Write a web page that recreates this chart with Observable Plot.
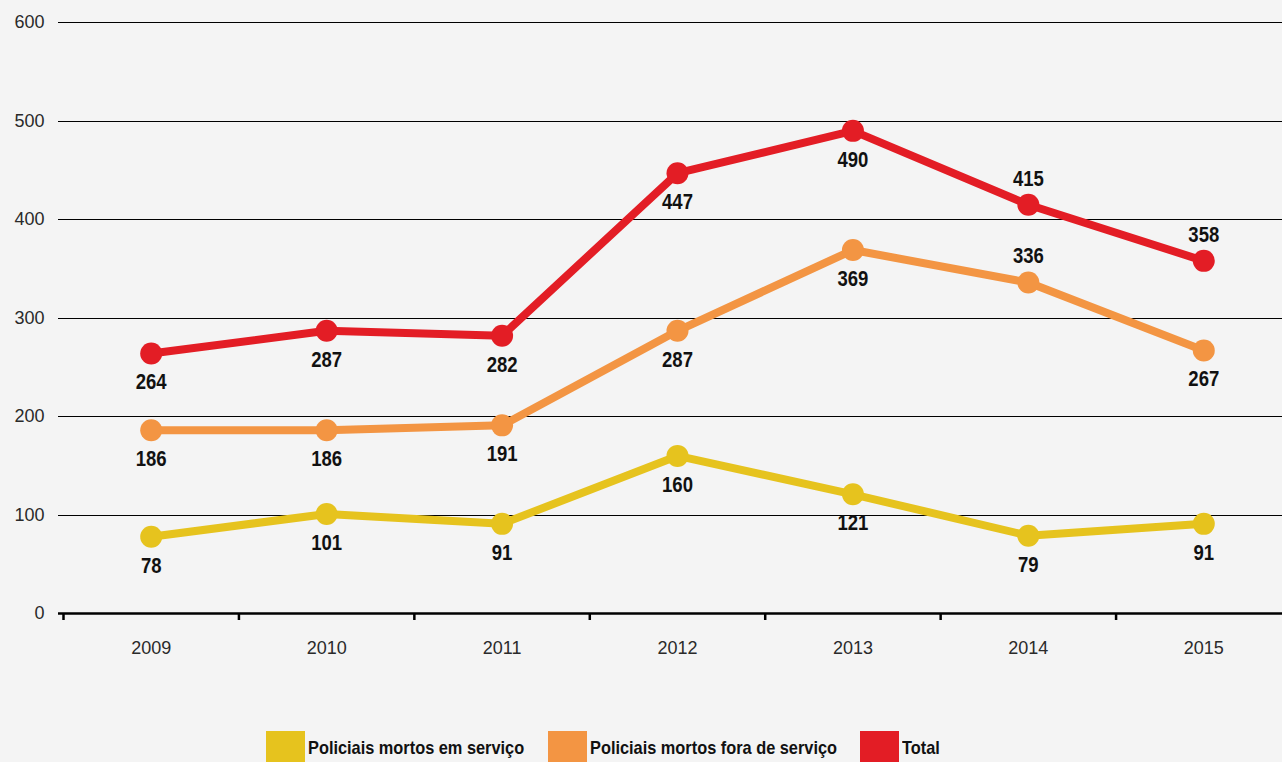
<!DOCTYPE html>
<html>
<head>
<meta charset="utf-8">
<script src="https://cdn.jsdelivr.net/npm/d3@7"></script>
<script src="https://cdn.jsdelivr.net/npm/@observablehq/plot@0.6"></script>
<style>
  html, body { margin: 0; padding: 0; }
  body { width: 1282px; height: 762px; overflow: hidden; background: #f4f4f4; position: relative;
         font-family: "Liberation Sans", Arial, sans-serif; }
  #chart svg { display: block; }
  #legend { position: absolute; left: 0; top: 731px; width: 1282px; height: 40px;
            font-family: "Liberation Sans", Arial, sans-serif;
            font-weight: bold; font-size: 19px; color: #111; }
  .sw { position: absolute; top: 0; width: 39px; height: 36px; }
  .lab { position: absolute; top: 6px; line-height: 21px; white-space: nowrap; transform-origin: 0 0; }
</style>
</head>
<body>
<div id="chart"></div>
<div id="legend"></div>
<script>
const years = [2009, 2010, 2011, 2012, 2013, 2014, 2015];
const emServico = [78, 101, 91, 160, 121, 79, 91];
const foraServico = [186, 186, 191, 287, 369, 336, 267];
const total = [264, 287, 282, 447, 490, 415, 358];
const seriesNames = ["Policiais mortos em serviço", "Policiais mortos fora de serviço", "Total"];
const seriesColors = ["#e6c31e", "#f39543", "#e31d25"];
const yTicks = [0, 100, 200, 300, 400, 500, 600];
// labels drawn above their point (the rest are below)
const labelsAbove = ["Total|2014", "Total|2015", "Policiais mortos fora de serviço|2014"];

const seriesValues = [emServico, foraServico, total];
const data = [];
seriesNames.forEach((s, i) => years.forEach((yr, j) => data.push({series: s, year: yr, value: seriesValues[i][j]})));
const isAbove = d => labelsAbove.includes(d.series + "|" + d.year);
const boundaries = years.map(y => y - 0.5);

const labelFont = {fontFamily: "'Liberation Sans', Arial, sans-serif", fontWeight: "bold", fontSize: 21.5, fill: "#111"};

const seriesMarks = seriesNames.flatMap(s => {
  const rows = data.filter(d => d.series === s);
  return [
    Plot.line(rows, {x: "year", y: "value", stroke: "series", strokeWidth: 8, strokeLinejoin: "round"}),
    Plot.dot(rows, {x: "year", y: "value", fill: "series", r: 11, stroke: null})
  ];
});

const chart = Plot.plot({
  width: 1282,
  height: 718,
  marginLeft: 58,
  marginRight: 0,
  marginTop: 22,
  marginBottom: 105,
  style: {background: "transparent", fontFamily: "'Liberation Sans', Arial, sans-serif"},
  x: {type: "linear", domain: [2008.5, 2015.5], range: [63, 1291]},
  y: {domain: [0, 600]},
  color: {domain: seriesNames, range: seriesColors},
  marks: [
    Plot.ruleY(yTicks.filter(d => d > 0), {stroke: "#000", strokeWidth: 1, shapeRendering: "crispEdges"}),
    Plot.axisY({ticks: yTicks, tickSize: 0, tickPadding: 14, fontSize: 18, fill: "#2a2a2a", label: null, tickFormat: d => String(d)}),
    Plot.axisX({ticks: boundaries, tickSize: 7, strokeWidth: 2.5, stroke: "#000", tickFormat: () => "", label: null}),
    Plot.axisX({ticks: years, tickSize: 0, tickPadding: 28, fontSize: 18, fill: "#2a2a2a", tickFormat: d => String(d), label: null}),
    Plot.ruleY([0], {stroke: "#000", strokeWidth: 2.5}),
    ...seriesMarks,
    Plot.text(data.filter(d => !isAbove(d)), {x: "year", y: "value", text: d => String(d.value), dy: 29, ...labelFont}),
    Plot.text(data.filter(isAbove), {x: "year", y: "value", text: d => String(d.value), dy: -26, ...labelFont})
  ]
});
document.getElementById("chart").appendChild(chart);

// condensed look for the bold value labels
chart.querySelectorAll('g[aria-label="text"] text').forEach(t => {
  const w = t.getComputedTextLength();
  t.setAttribute("textLength", (w * 0.86).toFixed(1));
  t.setAttribute("lengthAdjust", "spacingAndGlyphs");
});

// legend
const legend = document.getElementById("legend");
const swatchLeft = [266, 548, 860];
seriesNames.forEach((s, i) => {
  const sw = document.createElement("div");
  sw.className = "sw";
  sw.style.left = swatchLeft[i] + "px";
  sw.style.background = seriesColors[i];
  const lab = document.createElement("div");
  lab.className = "lab";
  lab.style.left = (swatchLeft[i] + 42) + "px";
  lab.style.transform = "scaleX(0.86)";
  lab.textContent = s;
  legend.appendChild(sw);
  legend.appendChild(lab);
});
</script>
</body>
</html>
